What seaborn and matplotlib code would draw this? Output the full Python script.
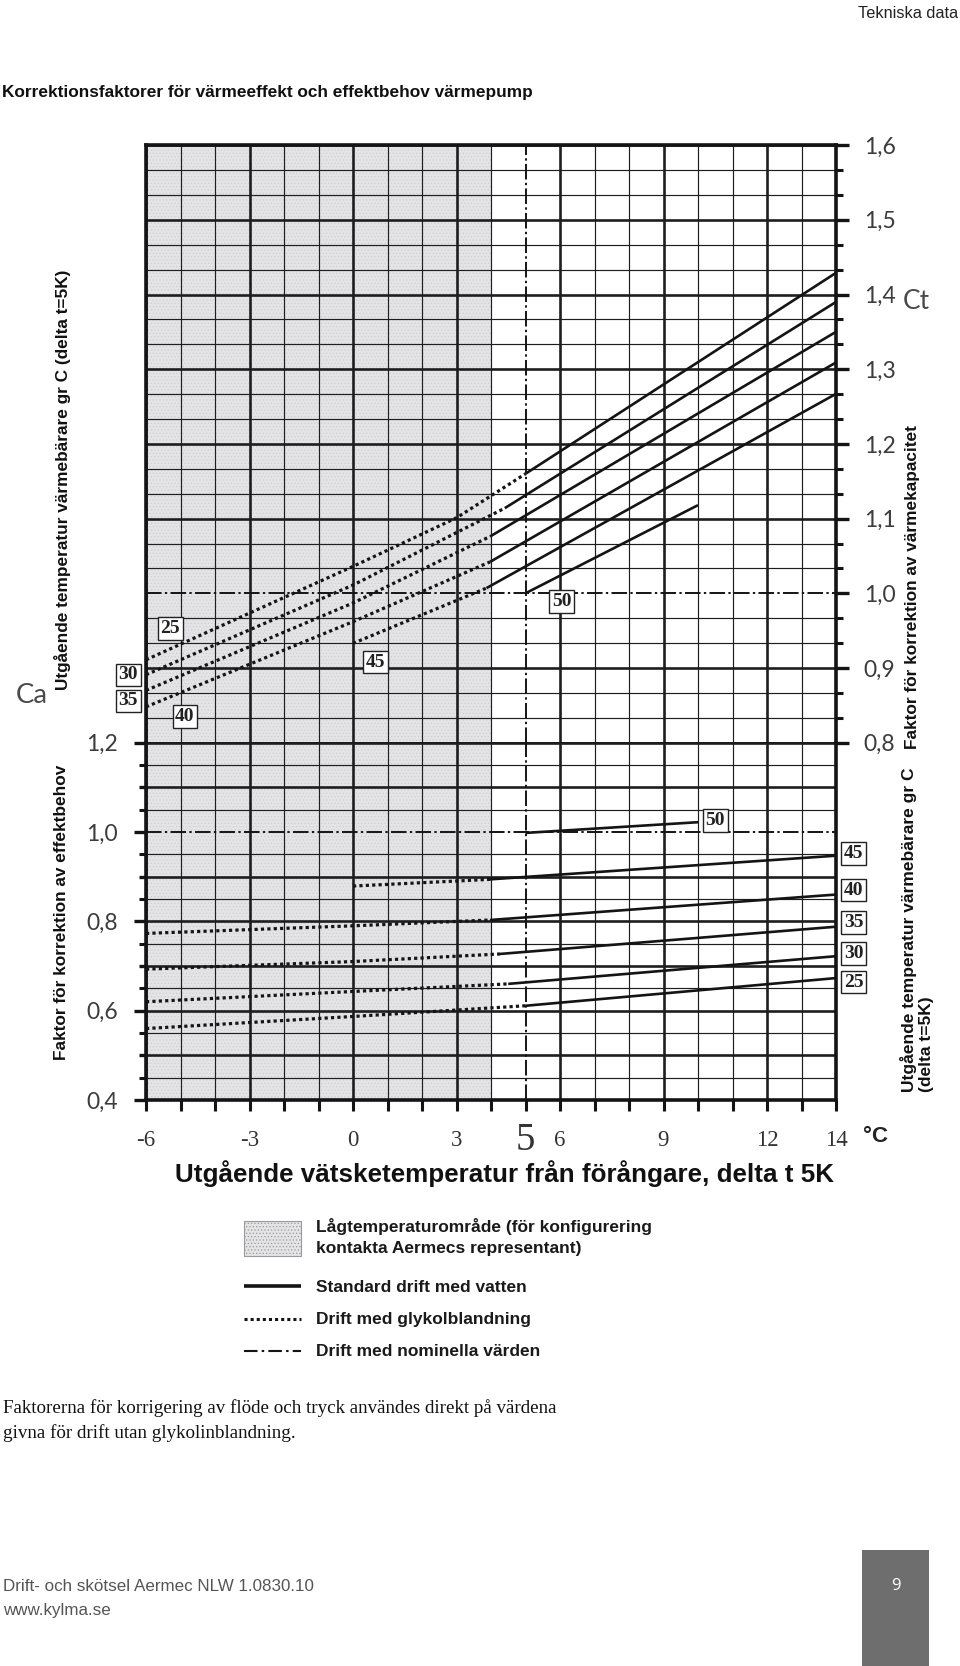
import numpy as np
import matplotlib
matplotlib.use("Agg")
import matplotlib.pyplot as plt
import seaborn as sns
from matplotlib import font_manager
from matplotlib.ticker import FixedLocator, NullFormatter
from matplotlib.patches import Rectangle
from matplotlib.lines import Line2D

# ---------------- data ----------------
x_limits = [-6, 14]
ct_limits = [0.8, 1.6]
ca_limits = [0.4, 1.2]
x_major_ticks = [-6, -3, 0, 3, 5, 6, 9, 12, 14]
x_tick_labels = ["-6", "-3", "0", "3", "5", "6", "9", "12", "14"]
ct_major_ticks = [0.8, 0.9, 1.0, 1.1, 1.2, 1.3, 1.4, 1.5, 1.6]
ct_tick_labels = ["0,8", "0,9", "1,0", "1,1", "1,2", "1,3", "1,4", "1,5", "1,6"]
ca_major_ticks = [0.4, 0.5, 0.6, 0.7, 0.8, 0.9, 1.0, 1.1, 1.2]
ca_tick_labels = ["0,4", "", "0,6", "", "0,8", "", "1,0", "", "1,2"]
low_temp_area = [-6, 4]
nominal_x = 5
nominal_factor = 1.0
temp_labels = ["25", "30", "35", "40", "45", "50"]

# Ct (heating capacity) - glycol (dotted) parts
ct25_glycol_x = [-6, 0, 3, 5]
ct25_glycol = [0.911, 1.036, 1.101, 1.160]
ct30_glycol_x = [-6, 0, 4.4]
ct30_glycol = [0.891, 1.011, 1.114]
ct35_glycol_x = [-6, 0, 3.97]
ct35_glycol = [0.870, 0.987, 1.076]
ct40_glycol_x = [-6, 0, 3.97]
ct40_glycol = [0.848, 0.962, 1.042]
ct45_glycol_x = [0, 3.87]
ct45_glycol = [0.933, 1.007]
# Ct - water (solid) parts
ct25_water_x = [5, 14]
ct25_water = [1.160, 1.429]
ct30_water_x = [4.4, 14]
ct30_water = [1.114, 1.390]
ct35_water_x = [3.97, 14]
ct35_water = [1.076, 1.350]
ct40_water_x = [3.97, 14]
ct40_water = [1.042, 1.309]
ct45_water_x = [3.87, 14]
ct45_water = [1.007, 1.267]
ct50_water_x = [5, 10]
ct50_water = [1.000, 1.118]

# Ca (power input) - glycol (dotted) parts
ca25_glycol_x = [-6, 0, 5]
ca25_glycol = [0.560, 0.587, 0.611]
ca30_glycol_x = [-6, 0, 4.5]
ca30_glycol = [0.620, 0.643, 0.660]
ca35_glycol_x = [-6, 0, 4.26]
ca35_glycol = [0.693, 0.710, 0.727]
ca40_glycol_x = [-6, 0, 3.97]
ca40_glycol = [0.773, 0.790, 0.803]
ca45_glycol_x = [0, 3.97]
ca45_glycol = [0.879, 0.894]
# Ca - water (solid) parts
ca25_water_x = [5, 14]
ca25_water = [0.611, 0.673]
ca30_water_x = [4.5, 14]
ca30_water = [0.660, 0.722]
ca35_water_x = [4.26, 14]
ca35_water = [0.727, 0.788]
ca40_water_x = [3.97, 14]
ca40_water = [0.803, 0.860]
ca45_water_x = [3.97, 14]
ca45_water = [0.894, 0.947]
ca50_water_x = [5, 10]
ca50_water = [0.998, 1.022]

# ---------------- style ----------------
sns.set_style("white")
plt.rcParams["hatch.linewidth"] = 0.5
plt.rcParams["axes.unicode_minus"] = False

_names = {f.name for f in font_manager.fontManager.ttflist}
def pick(*names):
    for n in names:
        if n in _names:
            return n
    return "DejaVu Sans"

SANS_N = pick("Liberation Sans Narrow", "Liberation Sans")
SANS = pick("Liberation Sans", "DejaVu Sans")
LIGHT = pick("Lato", "Open Sans", "Noto Sans")
SERIF = pick("Liberation Serif", "DejaVu Serif")
BODY = pick("Open Sans", "Noto Sans")
INK = "#141414"
GRID = "#1e1e1e"
SHADE = "#e4e4e6"
NUM = "#3c3c3c"

W, H = 960, 1666
fig = plt.figure(figsize=(W / 100, H / 100), dpi=100)
fig.patch.set_facecolor("white")

def fx(px):
    return px / W

def fy(py):
    return 1 - py / H

# page overlay in pixel coordinates
ax_o = fig.add_axes([0, 0, 1, 1], zorder=0)
ax_o.set_xlim(0, W)
ax_o.set_ylim(H, 0)
ax_o.axis("off")
ax_o.patch.set_visible(False)

L, R = 146, 836
Y_TOP, Y_MID, Y_BOT = 145.1, 742.7, 1100.0
ax_t = fig.add_axes([fx(L), fy(Y_MID), (R - L) / W, (Y_MID - Y_TOP) / H], zorder=2)
ax_b = fig.add_axes([fx(L), fy(Y_BOT), (R - L) / W, (Y_BOT - Y_MID) / H], zorder=2)

for ax, lim in ((ax_t, ct_limits), (ax_b, ca_limits)):
    ax.set_xlim(*x_limits)
    ax.set_ylim(*lim)
    ax.set_facecolor("white")
    ax.axvspan(*low_temp_area, facecolor=SHADE, edgecolor="#cfcfd2", hatch=".....", lw=0, zorder=0)
    ax.xaxis.set_major_locator(FixedLocator(x_major_ticks))
    ax.xaxis.set_minor_locator(FixedLocator([v for v in range(x_limits[0], x_limits[1] + 1) if v not in x_major_ticks]))
    ax.grid(True, which="major", color=GRID, lw=1.9, zorder=1)
    ax.grid(True, which="minor", color=GRID, lw=0.85, zorder=1)
    ax.set_axisbelow(True)

# y ticks
ax_t.yaxis.set_major_locator(FixedLocator(ct_major_ticks))
ax_t.yaxis.set_minor_locator(FixedLocator(np.arange(0.8, 1.6001, 0.1 / 3)))
ax_t.set_yticklabels(ct_tick_labels)
ax_t.yaxis.set_minor_formatter(NullFormatter())
ax_t.yaxis.tick_right()
ax_t.tick_params(axis="y", which="major", right=True, left=False, length=9, width=2.4,
                 direction="out", pad=11, labelsize=16.5, labelcolor=NUM, color=INK)
ax_t.tick_params(axis="y", which="minor", right=True, left=False, length=5, width=2.2,
                 direction="out", color=INK)
ax_t.tick_params(axis="x", which="both", length=0, labelbottom=False)
for lab in ax_t.get_yticklabels():
    lab.set_family(LIGHT)

ax_b.yaxis.set_major_locator(FixedLocator(ca_major_ticks))
ax_b.yaxis.set_minor_locator(FixedLocator(np.arange(0.45, 1.2, 0.1)))
ax_b.set_yticklabels(ca_tick_labels)
ax_b.yaxis.set_minor_formatter(NullFormatter())
ax_b.tick_params(axis="y", which="major", left=True, right=False, length=9, width=2.4,
                 direction="out", pad=11, labelsize=16.5, labelcolor=NUM, color=INK)
ax_b.tick_params(axis="y", which="minor", left=True, right=False, length=5, width=2.2,
                 direction="out", color=INK)
for lab in ax_b.get_yticklabels():
    lab.set_family(LIGHT)
for t, lab in zip(ax_b.yaxis.get_major_ticks(), ca_tick_labels):
    if not lab:
        t.tick1line.set_markersize(5)

ax_b.set_xticks(x_major_ticks, labels=x_tick_labels)
ax_b.tick_params(axis="x", which="both", bottom=True, top=False, length=8, width=2.2,
                 direction="out", pad=21, labelsize=16.5, labelcolor="#333333", color=INK)
for t, v in zip(ax_b.xaxis.get_major_ticks(), x_major_ticks):
    t.label1.set_family(SERIF)
    t.label1.set_va("center")
    if v == nominal_x:
        t.label1.set_fontsize(28)

# hide grid lines under the nominal dash-dot lines
for ax in (ax_t, ax_b):
    for t, v in zip(ax.xaxis.get_major_ticks(), x_major_ticks):
        if v == nominal_x:
            t.gridline.set_visible(False)
for t, v in zip(ax_t.yaxis.get_major_ticks(), ct_major_ticks):
    if abs(v - nominal_factor) < 1e-9:
        t.gridline.set_visible(False)
for t, v in zip(ax_b.yaxis.get_major_ticks(), ca_major_ticks):
    if abs(v - nominal_factor) < 1e-9:
        t.gridline.set_visible(False)

# spines
for ax in (ax_t, ax_b):
    for s in ax.spines.values():
        s.set_color(INK)
        s.set_linewidth(2.6)
        s.set_zorder(5)
ax_t.spines["bottom"].set_linewidth(1.9)
ax_b.spines["top"].set_visible(False)

# nominal dash-dot lines
DASHDOT = (0, (8, 1.7, 1.2, 1.7))
for ax in (ax_t, ax_b):
    ax.axhline(nominal_factor, color=INK, lw=1.4, linestyle=DASHDOT, zorder=3)
    ax.axvline(nominal_x, color=INK, lw=1.4, linestyle=DASHDOT, zorder=3)

# curves
DOT = (0, (1.0, 1.0))
glycol_series = [
    (ax_t, ct25_glycol_x, ct25_glycol), (ax_t, ct30_glycol_x, ct30_glycol),
    (ax_t, ct35_glycol_x, ct35_glycol), (ax_t, ct40_glycol_x, ct40_glycol),
    (ax_t, ct45_glycol_x, ct45_glycol),
    (ax_b, ca25_glycol_x, ca25_glycol), (ax_b, ca30_glycol_x, ca30_glycol),
    (ax_b, ca35_glycol_x, ca35_glycol), (ax_b, ca40_glycol_x, ca40_glycol),
    (ax_b, ca45_glycol_x, ca45_glycol),
]
water_series = [
    (ax_t, ct25_water_x, ct25_water), (ax_t, ct30_water_x, ct30_water),
    (ax_t, ct35_water_x, ct35_water), (ax_t, ct40_water_x, ct40_water),
    (ax_t, ct45_water_x, ct45_water), (ax_t, ct50_water_x, ct50_water),
    (ax_b, ca25_water_x, ca25_water), (ax_b, ca30_water_x, ca30_water),
    (ax_b, ca35_water_x, ca35_water), (ax_b, ca40_water_x, ca40_water),
    (ax_b, ca45_water_x, ca45_water), (ax_b, ca50_water_x, ca50_water),
]
for ax, xs, ys in glycol_series:
    sns.lineplot(x=xs, y=ys, ax=ax, color=INK, lw=2.3, linestyle=DOT, dash_capstyle="butt",
                 estimator=None, sort=False, legend=False, zorder=4)
for ax, xs, ys in water_series:
    sns.lineplot(x=xs, y=ys, ax=ax, color=INK, lw=1.9, solid_capstyle="butt",
                 estimator=None, sort=False, legend=False, zorder=4)
for ax in (ax_t, ax_b):
    ax.set_xlabel("")
    ax.set_ylabel("")

# boxed temperature labels
BOX = dict(boxstyle="square,pad=0.14", fc="white", ec="#222222", lw=1.0)
def tag(ax, x, y, s):
    ax.text(x, y, s, ha="center", va="center", fontsize=14, family=SERIF, weight="bold",
            color="#222222", bbox=BOX, clip_on=False, zorder=6)

upper_tag_pos = [(-5.30, 0.953), (-6.52, 0.891), (-6.52, 0.856), (-4.87, 0.835), (0.64, 0.908), (6.05, 0.989)]
lower_tag_pos = [(14.52, 0.664), (14.52, 0.728), (14.52, 0.797), (14.52, 0.870), (14.52, 0.952), (10.5, 1.026)]
for (x, y), s in zip(upper_tag_pos, temp_labels):
    tag(ax_t, x, y, s)
for (x, y), s in zip(lower_tag_pos, temp_labels):
    tag(ax_b, x, y, s)

# ---------------- page texts ----------------
renderer = fig.canvas.get_renderer()

def fit(t, target, vertical=False):
    bb = t.get_window_extent(renderer)
    cur = bb.height if vertical else bb.width
    t.set_fontsize(t.get_fontsize() * target / cur)
    return t

fit(ax_o.text(958, 13, "Tekniska data", ha="right", va="center", family=SANS_N, fontsize=12, color="#222222"), 100)
fit(ax_o.text(2, 92.4, "Korrektionsfaktorer för värmeeffekt och effektbehov värmepump", ha="left", va="center",
              family=SANS_N, weight="bold", fontsize=12, color="#111111"), 527)

fit(ax_o.text(32, 695.6, "Ca", ha="center", va="center", family=LIGHT, fontsize=20, color="#4a4a4a"), 32)
fit(ax_o.text(916.5, 301.6, "Ct", ha="center", va="center", family=LIGHT, fontsize=20, color="#4a4a4a"), 27)

fit(ax_o.text(63, 480, "Utgående temperatur värmebärare gr C (delta t=5K)", rotation=90, ha="center", va="center",
              family=SANS_N, weight="bold", fontsize=11, color="#111111"), 419, vertical=True)
fit(ax_o.text(62, 912, "Faktor för korrektion av effektbehov", rotation=90, ha="center", va="center",
              family=SANS_N, weight="bold", fontsize=11, color="#111111"), 295, vertical=True)
fit(ax_o.text(913, 587, "Faktor för korrektion av värmekapacitet", rotation=90, ha="center", va="center",
              family=SANS_N, weight="bold", fontsize=11, color="#111111"), 324, vertical=True)
rt = ax_o.text(917, 1092, "Utgående temperatur värmebärare gr C\n(delta t=5K)", rotation=90, ha="center", va="bottom",
               multialignment="left", linespacing=1.15, family=SANS_N, weight="bold", fontsize=11, color="#111111")
fit(rt, 322, vertical=True)

ax_o.text(876, 1136, "°C", ha="center", va="center", family=SANS, weight="bold", fontsize=16, color="#222222")
fit(ax_o.text(504.5, 1173.5, "Utgående vätsketemperatur från förångare, delta t 5K", ha="center", va="center",
              family=SANS, weight="bold", fontsize=17, color="#111111"), 659)

# legend
ax_o.add_patch(Rectangle((244, 1221), 56.5, 35, facecolor=SHADE, edgecolor="#9a9a9a", hatch=".....", lw=0.8))
leg1 = fit(ax_o.text(316.5, 1226.6, "Lågtemperaturområde (för konfigurering", ha="left", va="center",
                     family=SANS_N, weight="bold", fontsize=12, color="#1a1a1a"), 333)
lfs = leg1.get_fontsize()
ax_o.text(316.5, 1248, "kontakta Aermecs representant)", ha="left", va="center", family=SANS_N, weight="bold",
          fontsize=lfs, color="#1a1a1a")
ax_o.add_line(Line2D([244, 300.5], [1285.5, 1285.5], color=INK, lw=2.6, solid_capstyle="butt"))
ax_o.text(316.5, 1287, "Standard drift med vatten", ha="left", va="center", family=SANS_N, weight="bold",
          fontsize=lfs, color="#1a1a1a")
ax_o.add_line(Line2D([244, 300.5], [1318.5, 1318.5], color=INK, lw=2.2, linestyle=(0, (1.0, 1.0)), dash_capstyle="butt"))
ax_o.text(316.5, 1319.5, "Drift med glykolblandning", ha="left", va="center", family=SANS_N, weight="bold",
          fontsize=lfs, color="#1a1a1a")
ax_o.add_line(Line2D([244, 300.5], [1350.5, 1350.5], color=INK, lw=1.5, linestyle=(0, (6.5, 2.0, 1.2, 2.0))))
ax_o.text(316.5, 1351, "Drift med nominella värden", ha="left", va="center", family=SANS_N, weight="bold",
          fontsize=lfs, color="#1a1a1a")

# body text
p1 = fit(ax_o.text(3, 1408, "Faktorerna för korrigering av flöde och tryck användes direkt på värdena", ha="left",
                   va="center", family=SERIF, fontsize=12.5, color="#111111"), 555)
ax_o.text(3, 1432.6, "givna för drift utan glykolinblandning.", ha="left", va="center", family=SERIF,
          fontsize=p1.get_fontsize(), color="#111111")

# footer
f1 = fit(ax_o.text(3, 1586.5, "Drift- och skötsel Aermec NLW 1.0830.10", ha="left", va="center", family=SANS_N,
                   fontsize=12, color="#555555"), 311)
ax_o.text(3, 1610, "www.kylma.se", ha="left", va="center", family=SANS_N, fontsize=f1.get_fontsize(), color="#555555")
ax_o.add_patch(Rectangle((862, 1550), 67, 116, facecolor="#6e6e6e", edgecolor="none"))
ax_o.text(895.5, 1586, "9", ha="center", va="center", family=BODY, fontsize=12, color="white")

fig.savefig("out.png", dpi=100, facecolor="white")
